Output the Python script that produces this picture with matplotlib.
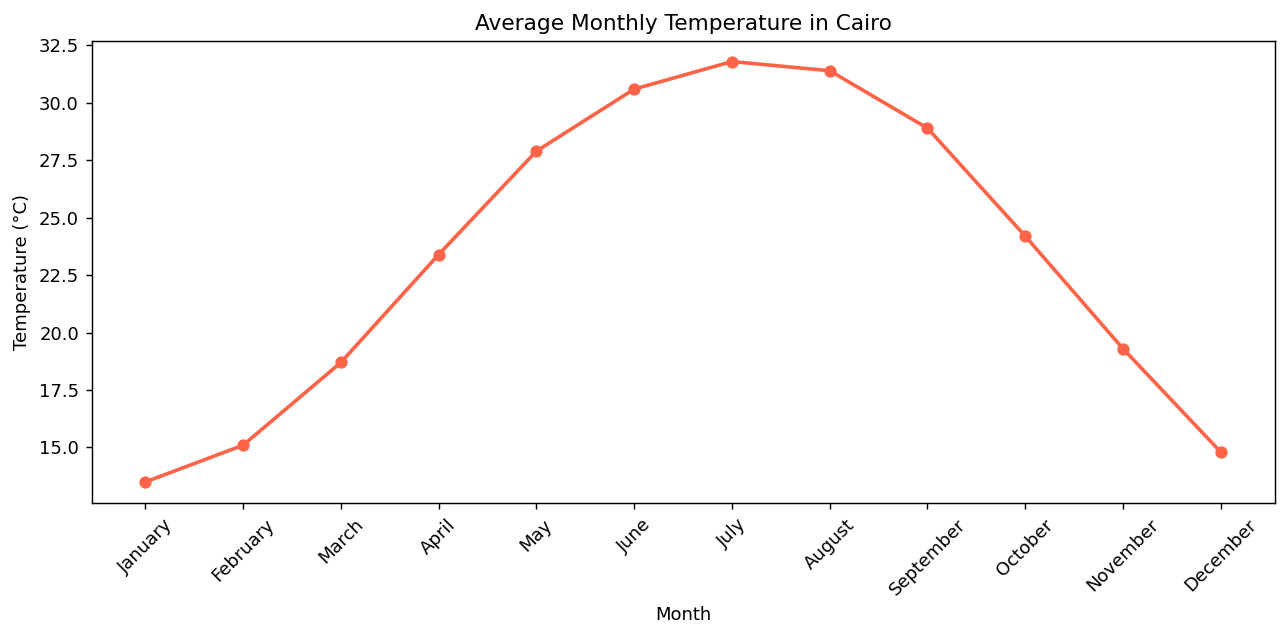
import matplotlib
matplotlib.use("Agg")
import matplotlib.pyplot as plt

months = ["January", "February", "March", "April", "May", "June", "July",
          "August", "September", "October", "November", "December"]
temps = [13.5, 15.1, 18.7, 23.4, 27.9, 30.6, 31.8, 31.4, 28.9, 24.2, 19.3, 14.8]

s = 1.3
fig, ax = plt.subplots(figsize=(12.86, 6.37), dpi=100)
fig.subplots_adjust(left=0.0712, right=0.9911, top=0.9364, bottom=0.2104)
ax.plot(months, temps, color="tomato", marker="o", linewidth=2 * s, markersize=6 * s)
ax.set_title("Average Monthly Temperature in Cairo", fontsize=12 * s, pad=6 * s)
ax.set_xlabel("Month", fontsize=10 * s, labelpad=4 * s)
ax.set_ylabel("Temperature (°C)", fontsize=10 * s, labelpad=4 * s)
ax.tick_params(axis="x", rotation=45, labelsize=10 * s)
ax.tick_params(axis="both", labelsize=10 * s, length=3.5 * s, width=0.8 * s, pad=3.5 * s)
for sp in ax.spines.values():
    sp.set_linewidth(0.8 * s)
fig.savefig("out.png", dpi=100)
